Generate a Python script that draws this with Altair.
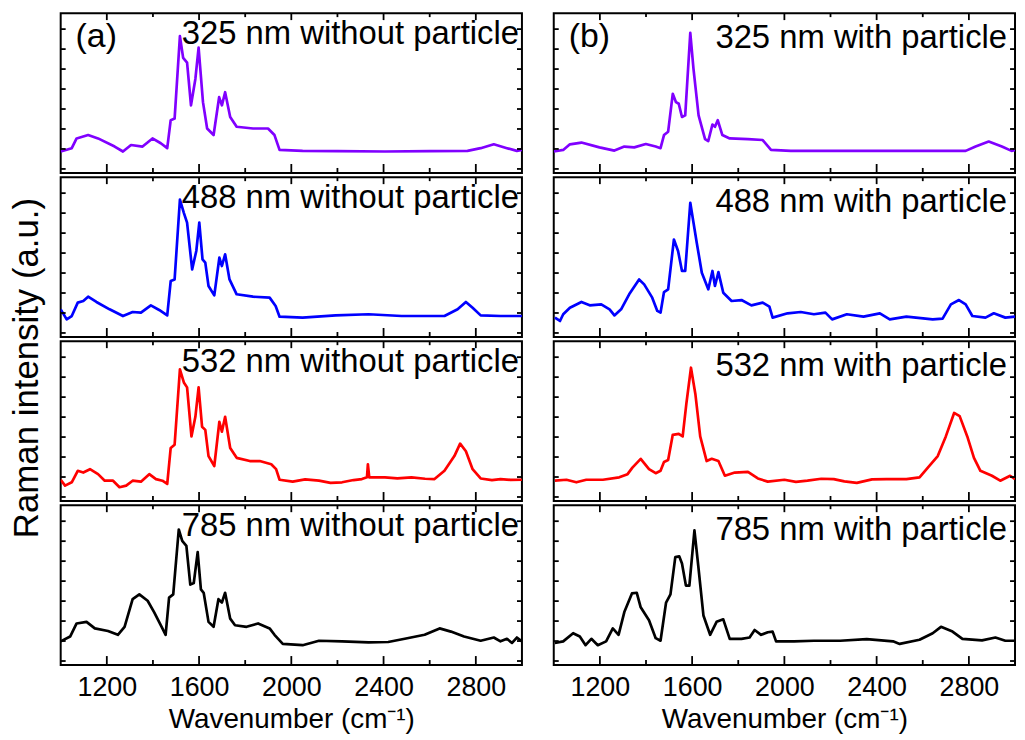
import altair as alt
import pandas as pd

# ---------------- data ----------------
# intensities are relative to the panel height (0 = panel bottom, 100 = panel top)
wn_a325 = [1000, 1048, 1069, 1119, 1162, 1234, 1270, 1305, 1355, 1398, 1434, 1462, 1477, 1494, 1517, 1531,
           1548, 1565, 1584, 1598, 1617, 1635, 1663, 1687, 1699, 1713, 1735, 1763, 1834, 1899, 1927, 1949,
           2049, 2200, 2406, 2600, 2764, 2821, 2878, 2935, 2978, 3000]
in_a325 = [13.4, 15.5, 21.6, 23.7, 21.6, 16.5, 13.4, 17.5, 16.5, 21.6, 18.6, 15.5, 33, 34, 85.6, 72,
           69, 42.3, 58.8, 78.4, 44.3, 27.8, 23.7, 47.4, 42.3, 50.5, 35, 28.9, 27.8, 27.8, 23.7, 14.4,
           13.8, 13.6, 13.4, 13.6, 13.8, 15.5, 17.9, 15.5, 13.8, 14.4]

wn_b325 = [1000, 1041, 1070, 1120, 1198, 1263, 1306, 1349, 1399, 1442, 1463, 1478, 1496, 1516, 1530, 1542,
           1556, 1570, 1592, 1606, 1628, 1656, 1670, 1688, 1699, 1711, 1731, 1763, 1842, 1906, 1942, 2028,
           2393, 2786, 2829, 2886, 2943, 2985, 3000]
in_b325 = [13.4, 14.4, 17.9, 19, 16, 14, 16.5, 16, 18.1, 16.5, 15.5, 23.7, 25.8, 49.5, 44.3, 43.3,
           35, 36, 87.6, 65, 36, 21.2, 20, 30.3, 28.9, 33, 23.7, 21.6, 21.2, 20.6, 14.4, 13.8,
           13.8, 13.8, 16.5, 19.6, 16.5, 13.8, 14.4]

wn_a488 = [1000, 1026, 1048, 1074, 1098, 1119, 1155, 1212, 1270, 1312, 1348, 1391, 1427, 1462, 1477, 1494,
           1517, 1534, 1548, 1570, 1588, 1601, 1615, 1627, 1641, 1666, 1688, 1699, 1713, 1732, 1763, 1834,
           1906, 1932, 1949, 2049, 2192, 2335, 2478, 2664, 2721, 2757, 2786, 2821, 2907, 3000]
in_a488 = [17.3, 11, 13.1, 21.5, 22.5, 25.2, 21.9, 17.3, 13.1, 15.6, 15.2, 19.8, 16.9, 13.5, 35, 36,
           86, 77.7, 71.5, 42.3, 53.8, 71.5, 48.5, 46.5, 31.9, 26, 49.6, 44.4, 51.7, 36, 26.7, 25.2,
           24.6, 19.4, 12.7, 12.1, 13.5, 14.2, 13.1, 13.1, 17.3, 21.9, 18.3, 13.5, 13.1, 13.1]

wn_b488 = [1005, 1027, 1041, 1070, 1120, 1156, 1206, 1242, 1263, 1292, 1327, 1370, 1392, 1427, 1449, 1463,
           1478, 1496, 1521, 1539, 1556, 1570, 1592, 1606, 1620, 1642, 1670, 1688, 1699, 1714, 1735, 1771,
           1814, 1857, 1906, 1935, 1949, 2014, 2071, 2128, 2178, 2207, 2271, 2343, 2414, 2457, 2529, 2643,
           2686, 2722, 2757, 2786, 2815, 2872, 2908, 2958, 3000]
in_b488 = [12.1, 10, 14.2, 18.3, 21.9, 19.8, 20.4, 17.3, 13.5, 17.3, 26.7, 36, 32.9, 24.6, 16.3, 15.2,
           28.1, 29.8, 61, 53.8, 41.3, 41.3, 84, 71.5, 59, 40.2, 29.8, 41.3, 31.9, 40.6, 27.7, 22.5,
           23.1, 19.8, 21.5, 19, 12.1, 14.8, 15.6, 14.2, 15.2, 11, 14.2, 12.7, 14.8, 11, 12.7, 11,
           11.5, 20.4, 23.1, 20.4, 13.1, 12.1, 14.8, 12.1, 12.7]

wn_a532 = [1000, 1019, 1048, 1074, 1098, 1127, 1162, 1191, 1227, 1255, 1284, 1312, 1348, 1384, 1413, 1441,
           1462, 1477, 1494, 1517, 1534, 1548, 1567, 1584, 1598, 1613, 1627, 1641, 1666, 1688, 1699, 1713,
           1735, 1763, 1820, 1863, 1913, 1934, 1949, 2006, 2060, 2120, 2170, 2220, 2270, 2306, 2328, 2332,
           2338, 2406, 2460, 2521, 2580, 2621, 2664, 2707, 2732, 2757, 2786, 2821, 2870, 2907, 2950, 3000]
in_a532 = [13.3, 9.6, 11.7, 18.9, 17.8, 19.9, 16.8, 12.7, 12.7, 8.6, 9.6, 12.7, 12.1, 16.8, 13.7, 12.7,
           10.7, 33.2, 35.2, 82.4, 74.2, 71.1, 40.4, 52.7, 71.1, 46.5, 44.5, 28.1, 21.9, 49.6, 43.4, 52.7,
           33.2, 27, 25, 25, 23, 19.9, 13.3, 12.1, 13.5, 12.7, 11.3, 11.7, 13.1, 13.7, 14.8, 23,
           14.8, 14.8, 14.2, 14.8, 13.9, 13.7, 18.9, 28.1, 35.9, 31.1, 19.9, 14.1, 13.1, 13.7, 13.2, 13.3]

wn_b532 = [1005, 1055, 1098, 1141, 1213, 1284, 1320, 1341, 1377, 1413, 1442, 1463, 1478, 1496, 1516, 1542,
           1559, 1575, 1595, 1614, 1635, 1663, 1685, 1714, 1742, 1785, 1842, 1885, 1928, 2000, 2050, 2100,
           2160, 2214, 2260, 2314, 2380, 2443, 2529, 2586, 2622, 2665, 2700, 2736, 2760, 2793, 2822, 2850,
           2900, 2936, 2979, 3000]
in_b532 = [12.7, 13.3, 11.7, 13.3, 13.3, 14.8, 16.8, 20.9, 26.4, 19.9, 17.4, 18.9, 24.4, 25.6, 41.4, 42,
           40.4, 60.9, 83.4, 67, 40.4, 25, 26.4, 25, 15.8, 17.8, 18.2, 14.1, 12.1, 13.3, 12, 12.7,
           13.9, 13.7, 12.3, 11.3, 13.5, 13.7, 13.7, 14.8, 20.9, 28.1, 40.4, 55.1, 53.1, 40.4, 27, 18.9,
           15.8, 12.7, 15.8, 13.7]

wn_a785 = [1000, 1041, 1069, 1112, 1148, 1205, 1248, 1277, 1312, 1341, 1377, 1405, 1441, 1455, 1470, 1488,
           1512, 1527, 1545, 1562, 1577, 1594, 1608, 1620, 1641, 1663, 1684, 1699, 1713, 1735, 1756, 1806,
           1856, 1906, 1927, 1963, 2049, 2120, 2220, 2335, 2420, 2492, 2578, 2643, 2692, 2749, 2821, 2878,
           2907, 2935, 2957, 2978, 3000]
in_a785 = [14.8, 17.8, 26, 27, 22.9, 21.3, 18.9, 23.9, 41.2, 44.2, 40.2, 33.1, 22.9, 18.9, 42.2, 44.2,
           84.8, 77.7, 74.6, 50.3, 51.3, 70.6, 47.3, 45.2, 27, 23.9, 41.2, 39.1, 45.2, 29, 24.9, 23.9,
           26, 22.9, 18.9, 13.2, 12.4, 15.2, 14.8, 14.2, 14.4, 16.4, 18.9, 22.9, 20.9, 17.8, 15.2, 17.2,
           14.8, 16.4, 13.8, 17.2, 14.8]

wn_b785 = [1005, 1041, 1084, 1113, 1138, 1163, 1191, 1227, 1256, 1281, 1306, 1339, 1360, 1377, 1413, 1442,
           1463, 1487, 1506, 1527, 1544, 1556, 1573, 1588, 1610, 1627, 1649, 1678, 1706, 1735, 1763, 1814,
           1849, 1871, 1899, 1928, 1949, 1964, 2042, 2128, 2242, 2357, 2471, 2500, 2586, 2643, 2679, 2729,
           2772, 2857, 2915, 2958, 3000]
in_b785 = [13.8, 14.8, 19.9, 17.8, 12.4, 16.4, 12.4, 14.8, 22.9, 18.9, 33.1, 44.8, 45.2, 36.1, 28, 16.8,
           15.2, 39.1, 44.2, 67.5, 68, 63.5, 49.7, 49.7, 84.2, 61.5, 31, 18.9, 27, 28.6, 16.4, 16.4,
           17.2, 21.9, 18.9, 20.5, 20.9, 14.8, 14.8, 15.2, 15.2, 16.2, 14.8, 13.2, 15.8, 19.9, 23.9, 20.9,
           16.4, 15.4, 17.2, 15.2, 15.2]

labels_a = ["325 nm without particle", "488 nm without particle",
            "532 nm without particle", "785 nm without particle"]
labels_b = ["325 nm with particle", "488 nm with particle",
            "532 nm with particle", "785 nm with particle"]
tags = ["(a)", "(b)"]
line_colors = ["#8000ff", "#0000ff", "#ff0000", "#000000"]
major_ticks = [1200, 1600, 2000, 2400, 2800]
minor_ticks = [1400, 1800, 2200, 2600]
ytick_vals = [2.5, 15, 27.5, 40, 52.5, 65, 77.5, 90]
x_title = "Wavenumber (cm⁻¹)"
y_title = "Raman intensity (a.u.)"

# ---------------- chart ----------------
FONT = "Liberation Sans"
W, H = 464, 160.75


def make_panel(wn, inten, color, label, tag, label_x, label_top, bottom):
    xs = alt.Scale(domain=[1000, 3000], nice=False, zero=False)
    ys = alt.Scale(domain=[0, 100], nice=False, zero=False)
    if bottom:
        xax = alt.Axis(values=major_ticks, format="d", ticks=False, domain=False, grid=False,
                       labelFontSize=27, labelPadding=10, labelFont=FONT, labelColor="black",
                       title=x_title, titleFont=FONT, titleFontSize=28,
                       titleFontWeight="normal", titleColor="black", titlePadding=5)
    else:
        xax = None

    def X():
        return alt.X("wn:Q", scale=xs, axis=xax)

    def Y(field):
        return alt.Y(field, scale=ys, axis=None)

    spec = pd.DataFrame({"wn": wn, "I": inten})
    layers = [
        alt.Chart(spec).mark_line(color=color, strokeWidth=2.7, clip=True,
                                  strokeJoin="round").encode(x=X(), y=Y("I:Q"))
    ]
    tick_major = pd.DataFrame({"wn": major_ticks})
    tick_minor = pd.DataFrame({"wn": minor_ticks})
    ytk = pd.DataFrame({"I": ytick_vals})
    rule = dict(color="black", strokeWidth=1.8)
    layers += [
        alt.Chart(tick_major).mark_rule(**rule).encode(x=X(), y=alt.value(H), y2=alt.value(H - 9)),
        alt.Chart(tick_minor).mark_rule(**rule).encode(x=X(), y=alt.value(H), y2=alt.value(H - 5)),
        alt.Chart(tick_major).mark_rule(**rule).encode(x=X(), y=alt.value(0), y2=alt.value(7)),
        alt.Chart(tick_minor).mark_rule(**rule).encode(x=X(), y=alt.value(0), y2=alt.value(4)),
        alt.Chart(ytk).mark_rule(**rule).encode(y=Y("I:Q"), x=alt.value(0), x2=alt.value(5)),
        alt.Chart(ytk).mark_rule(**rule).encode(y=Y("I:Q"), x=alt.value(W), x2=alt.value(W - 5)),
    ]
    layers.append(
        alt.Chart(pd.DataFrame({"t": [label]})).mark_text(
            align="right", baseline="top", font=FONT, fontSize=33, color="black"
        ).encode(text="t:N", x=alt.value(label_x), y=alt.value(label_top))
    )
    if tag:
        layers.append(
            alt.Chart(pd.DataFrame({"t": [tag]})).mark_text(
                align="left", baseline="top", font=FONT, fontSize=34, color="black"
            ).encode(text="t:N", x=alt.value(15), y=alt.value(7))
        )
    return alt.layer(*layers).properties(width=W, height=H)


series_a = [(wn_a325, in_a325), (wn_a488, in_a488), (wn_a532, in_a532), (wn_a785, in_a785)]
series_b = [(wn_b325, in_b325), (wn_b488, in_b488), (wn_b532, in_b532), (wn_b785, in_b785)]

col_a = alt.vconcat(*[
    make_panel(w, v, line_colors[i], labels_a[i], tags[0] if i == 0 else "", W - 3, 5, i == 3)
    for i, (w, v) in enumerate(series_a)
], spacing=0)
col_b = alt.vconcat(*[
    make_panel(w, v, line_colors[i], labels_b[i], tags[1] if i == 0 else "", W - 8, 9, i == 3)
    for i, (w, v) in enumerate(series_b)
], spacing=0)

ytitle_chart = alt.Chart(pd.DataFrame({"t": [y_title]})).mark_text(
    angle=270, align="center", baseline="middle", font=FONT, fontSize=35, color="black"
).encode(text="t:N", x=alt.value(18), y=alt.value(357)).properties(
    width=37, height=4 * H, view=alt.ViewBackground(stroke="transparent")
)

chart = alt.hconcat(
    ytitle_chart,
    alt.hconcat(col_a, col_b, spacing=28),
    spacing=12,
).properties(
    padding={"left": 0, "top": 1, "right": 0, "bottom": 0},
    background="white",
).configure_view(stroke="black", strokeWidth=2)

chart.save("out.html", embed_options={"renderer": "svg", "actions": False})
